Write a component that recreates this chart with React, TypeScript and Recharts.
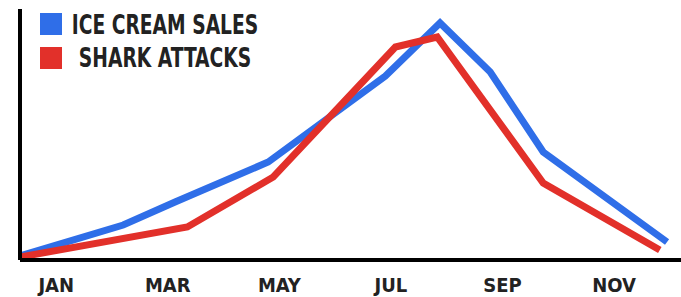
import { LineChart, Line, XAxis, YAxis } from "recharts";

// x positions are in months (0 = JAN), y in arbitrary units
const ICE_CREAM_MONTHS = [-0.65, 1.2, 2.13, 3.8, 5.9, 6.88, 7.78, 8.73, 10.95];
const ICE_CREAM_VALUES = [4, 35, 58, 98, 184, 237, 188, 108, 18];

const SHARK_MONTHS = [-0.65, 2.35, 3.89, 6.08, 6.83, 8.73, 10.82];
const SHARK_VALUES = [3, 33, 83, 213, 223, 77, 10];

const TICK_MONTHS = [0, 2, 4, 6, 8, 10];
const TICK_LABELS = ["JAN", "MAR", "MAY", "JUL", "SEP", "NOV"];

const SERIES = [
  { label: "ICE CREAM SALES", color: "#2f6ee8" },
  { label: "SHARK ATTACKS", color: "#e2302a" },
];

const FONT = '"DejaVu Sans Condensed", "DejaVu Sans", sans-serif';

const iceCream = ICE_CREAM_MONTHS.map((m, i) => ({ m, v: ICE_CREAM_VALUES[i] }));
const sharks = SHARK_MONTHS.map((m, i) => ({ m, v: SHARK_VALUES[i] }));

function MonthTick({ x, y, payload }: any) {
  const idx = TICK_MONTHS.indexOf(payload.value);
  return (
    <text
      x={x}
      y={y + 24}
      textAnchor="middle"
      fill="#222"
      fontFamily={FONT}
      fontWeight="bold"
      fontSize={20}
    >
      {TICK_LABELS[idx]}
    </text>
  );
}

function LegendBox() {
  return (
    <div style={{ position: "absolute", left: 0, top: 0, width: 300, height: 75, fontFamily: FONT }}>
      {SERIES.map((r, i) => (
        <div key={r.label}>
          <div
            style={{
              position: "absolute",
              left: 40,
              top: 13 + i * 34,
              width: 22,
              height: 22,
              background: r.color,
            }}
          />
          <div
            style={{
              position: "absolute",
              left: 15,
              width: 300,
              top: 10 + i * 33,
              textAlign: "center",
              fontSize: 27,
              fontWeight: "bold",
              lineHeight: "30px",
              color: "#222",
              whiteSpace: "nowrap",
              transform: "scaleX(0.77)",
            }}
          >
            {r.label}
          </div>
        </div>
      ))}
    </div>
  );
}

export default function App() {
  return (
    <div style={{ position: "absolute", left: 0, top: 0, width: 681, height: 297, background: "#fff" }}>
      <LineChart width={681} height={297} margin={{ top: 9, right: 0, bottom: 0, left: 0 }}>
        <XAxis
          dataKey="m"
          type="number"
          domain={[-0.65, 11.2]}
          ticks={TICK_MONTHS}
          allowDataOverflow
          height={37}
          axisLine={{ stroke: "#000", strokeWidth: 4 }}
          tickLine={false}
          tick={<MonthTick />}
        />
        <YAxis
          type="number"
          domain={[0, 251]}
          width={20}
          tick={false}
          tickLine={false}
          axisLine={{ stroke: "#000", strokeWidth: 4 }}
        />
        <Line
          data={iceCream}
          dataKey="v"
          name={SERIES[0].label}
          type="linear"
          stroke={SERIES[0].color}
          strokeWidth={7}
          dot={false}
          isAnimationActive={false}
        />
        <Line
          data={sharks}
          dataKey="v"
          name={SERIES[1].label}
          type="linear"
          stroke={SERIES[1].color}
          strokeWidth={7}
          dot={false}
          isAnimationActive={false}
        />
      </LineChart>
      <LegendBox />
    </div>
  );
}
